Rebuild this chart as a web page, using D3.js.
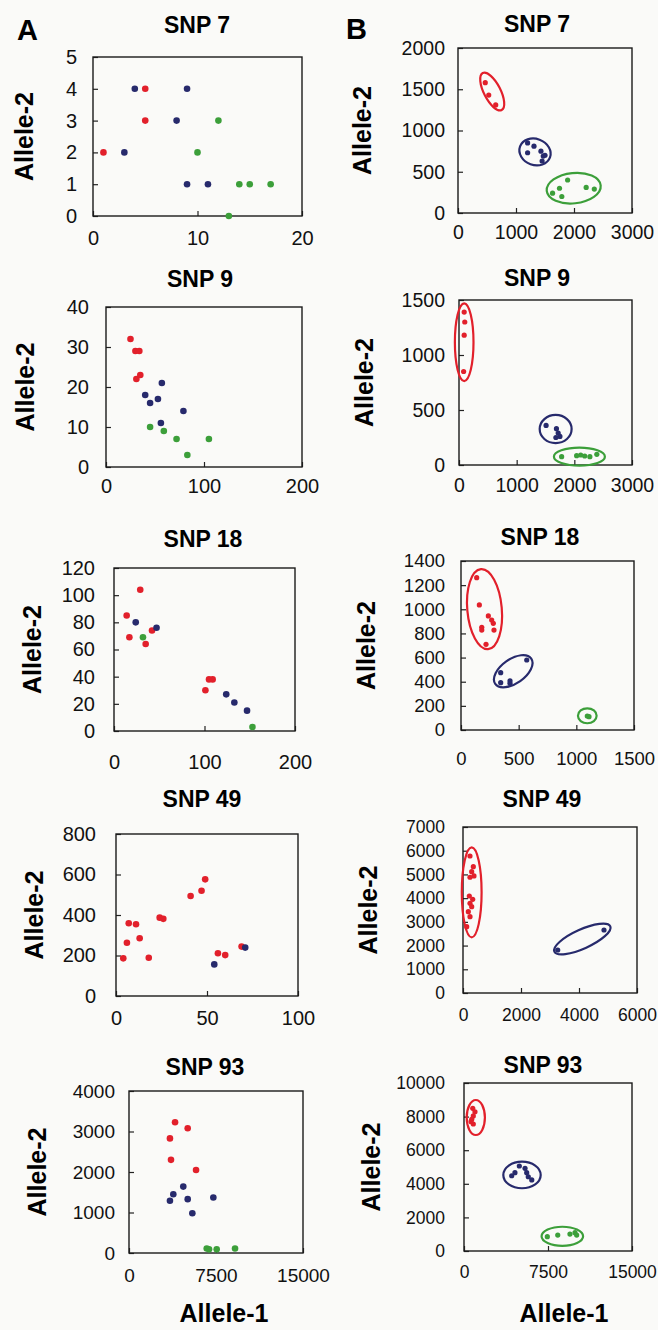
<!DOCTYPE html>
<html>
<head>
<meta charset="utf-8">
<script src="https://cdn.jsdelivr.net/npm/d3@7"></script>
<style>
  body { margin: 0; background: #fafaf8; }
  svg { display: block; font-family: "Liberation Sans", Arial, sans-serif; }
</style>
</head>
<body>
<svg id="fig" width="658" height="1330"></svg>
<script>
// ---- data ----
const snpNames = ["SNP 7", "SNP 9", "SNP 18", "SNP 49", "SNP 93"];

// column A tick values
const aXTicks = [[0, 10, 20], [0, 100, 200], [0, 100, 200], [0, 50, 100], [0, 7500, 15000]];
const aYTicks = [[0, 1, 2, 3, 4, 5], [0, 10, 20, 30, 40], [0, 20, 40, 60, 80, 100, 120],
                 [0, 200, 400, 600, 800], [0, 1000, 2000, 3000, 4000]];
// column B tick values
const bXTicks = [[0, 1000, 2000, 3000], [0, 1000, 2000, 3000], [0, 500, 1000, 1500],
                 [0, 2000, 4000, 6000], [0, 7500, 15000]];
const bYTicks = [[0, 500, 1000, 1500, 2000], [0, 500, 1000, 1500],
                 [0, 200, 400, 600, 800, 1000, 1200, 1400],
                 [0, 1000, 2000, 3000, 4000, 5000, 6000, 7000],
                 [0, 2000, 4000, 6000, 8000, 10000]];

// points: [allele-1, allele-2, genotype]  r = allele-2 homozygote, h = heterozygote, g = allele-1 homozygote
const a7 = [[1,2,"r"],[5,4,"r"],[5,3,"r"],
  [3,2,"h"],[4,4,"h"],[8,3,"h"],[9,4,"h"],[9,1,"h"],[11,1,"h"],
  [10,2,"g"],[12,3,"g"],[13,0,"g"],[14,1,"g"],[15,1,"g"],[17,1,"g"]];
const a9 = [[25,32,"r"],[30,29,"r"],[34,29,"r"],[31,22,"r"],[35,23,"r"],
  [57,21,"h"],[40,18,"h"],[45,16,"h"],[53,17,"h"],[79,14,"h"],[56,11,"h"],
  [45,10,"g"],[59,9,"g"],[72,7,"g"],[105,7,"g"],[83,3,"g"]];
const a18 = [[29,104,"r"],[14,85,"r"],[42,74,"r"],[17,69,"r"],[35,64,"r"],[101,30,"r"],[105,38,"r"],[109,38,"r"],
  [24,80,"h"],[47,76,"h"],[124,27,"h"],[133,21,"h"],[147,15,"h"],
  [32,69,"g"],[153,3,"g"]];
const a49 = [[4,186,"r"],[6,263,"r"],[7,359,"r"],[11,354,"r"],[13,285,"r"],[18,189,"r"],[24,387,"r"],
  [26,381,"r"],[41,494,"r"],[47,520,"r"],[49,576,"r"],[56,211,"r"],[60,202,"r"],[69,244,"r"],
  [54,156,"h"],[71,239,"h"]];
const a93 = [[3970,3230,"r"],[5060,3080,"r"],[3530,2830,"r"],[3620,2300,"r"],[5780,2050,"r"],
  [4680,1640,"h"],[3820,1450,"h"],[3530,1290,"h"],[5060,1330,"h"],[7270,1370,"h"],[5460,980,"h"],
  [6700,110,"g"],[6900,90,"g"],[7560,90,"g"],[9140,110,"g"]];

const b7 = [[470,1580,"r"],[530,1430,"r"],[650,1310,"r"],
  [1200,850,"h"],[1310,810,"h"],[1200,730,"h"],[1430,750,"h"],[1470,690,"h"],[1450,630,"h"],[1500,700,"h"],
  [1890,400,"g"],[1750,300,"g"],[1630,240,"g"],[1790,200,"g"],[2210,310,"g"],[2350,290,"g"]];
const b9 = [[90,1390,"r"],[100,1300,"r"],[90,1180,"r"],[80,850,"r"],
  [1510,360,"h"],[1690,330,"h"],[1720,290,"h"],[1750,260,"h"],[1680,250,"h"],
  [1780,76,"g"],[2040,85,"g"],[2110,91,"g"],[2180,82,"g"],[2270,76,"g"],[2390,97,"g"]];
const b18 = [[136,1262,"r"],[159,1036,"r"],[237,945,"r"],[266,911,"r"],[280,884,"r"],[180,851,"r"],
  [180,828,"r"],[286,828,"r"],[217,710,"r"],
  [344,475,"h"],[344,392,"h"],[425,408,"h"],[425,387,"h"],[570,580,"h"],
  [1095,116,"g"],[1110,110,"g"]];
const b49 = [[241,5778,"r"],[356,5327,"r"],[300,5116,"r"],[379,4935,"r"],[241,4880,"r"],[218,4091,"r"],
  [334,3952,"r"],[241,3783,"r"],[300,3640,"r"],[183,3429,"r"],[241,3219,"r"],[128,2797,"r"],
  [3266,1814,"h"],[4862,2657,"h"]];
const b93 = [[780,8490,"r"],[980,8290,"r"],[830,8040,"r"],[690,7840,"r"],[830,7560,"r"],[630,7700,"r"],
  [4260,4480,"h"],[4550,4660,"h"],[4940,5060,"h"],[5450,4920,"h"],[5600,4660,"h"],[5740,4420,"h"],[6050,4230,"h"],
  [7440,850,"g"],[8370,950,"g"],[9460,1010,"g"],[9910,1090,"g"],[10060,950,"g"]];

// cluster ellipses: [centre x, centre y, major-axis end x, major-axis end y, minor/major ratio, genotype]
const b7Clusters = [[590,1472,753,1248,0.4,"r"],[1328,740,1586,673,0.82,"h"],[1995,301,2460,335,0.56,"g"]];
const b9Clusters = [[90,1116,90,1469,0.24,"r"],[1676,327,1953,327,0.88,"h"],[2088,76,2530,76,0.35,"g"]];
const b18Clusters = [[204,1001,173,1332,0.43,"r"],[453,487,609,592,0.55,"h"],[1095,118,1176,118,0.8,"g"]];
const b49Clusters = [[300,4247,300,6145,0.22,"r"],[4115,2278,5080,2810,0.31,"h"]];
const b93Clusters = [[1054,7946,1054,8988,0.52,"r"],[5179,4524,6848,4524,0.71,"h"],[8780,875,10634,875,0.46,"g"]];

const aPoints = [a7, a9, a18, a49, a93];
const bPoints = [b7, b9, b18, b49, b93];
const bClusters = [b7Clusters, b9Clusters, b18Clusters, b49Clusters, b93Clusters];

// ---- styling / layout ----
const colors = { r: "#e2202b", h: "#272a6c", g: "#3c9f3a" };

// box [x0, y0, x1, y1], title [cx, baseline], y label centre x, y tick label right edge, x label centre offset, font size
const aLayout = [
  { box: [93, 57, 302, 216],   title: [197, 33],   ylab: 24, yr: 77,  xo: 22, fs: 20 },
  { box: [106, 307, 302, 467], title: [200, 287],  ylab: 25, yr: 89,  xo: 19, fs: 20 },
  { box: [114, 568, 295, 731], title: [203, 547],  ylab: 32, yr: 95,  xo: 31, fs: 20 },
  { box: [116, 834, 298, 996], title: [202, 807],  ylab: 34, yr: 96,  xo: 22, fs: 20 },
  { box: [129, 1091, 303, 1253], title: [205, 1075], ylab: 37, yr: 115, xo: 22, fs: 19 }
];
const bLayout = [
  { box: [458, 48, 632, 213],   title: [537, 32],   ylab: 362, yr: 445, xo: 19, fs: 19.5 },
  { box: [459, 300, 632, 465],  title: [537, 286],  ylab: 364, yr: 445, xo: 20, fs: 19.5 },
  { box: [461, 561, 634, 730],  title: [540, 545],  ylab: 366, yr: 445, xo: 28, fs: 18.5 },
  { box: [463, 827, 637, 993],  title: [542, 807],  ylab: 368, yr: 445, xo: 22, fs: 17.5 },
  { box: [464, 1083, 632, 1251], title: [543, 1073], ylab: 371, yr: 445, xo: 21, fs: 17.5 }
];

const svg = d3.select("#fig");

function drawPanel(lay, name, xTicks, yTicks, pts, clusters, dotR) {
  const [x0, y0, x1, y1] = lay.box;
  const x = d3.scaleLinear().domain([xTicks[0], xTicks[xTicks.length - 1]]).range([x0, x1]);
  const y = d3.scaleLinear().domain([yTicks[0], yTicks[yTicks.length - 1]]).range([y1, y0]);
  const g = svg.append("g");

  // title
  g.append("text")
    .attr("x", lay.title[0]).attr("y", lay.title[1])
    .attr("text-anchor", "middle")
    .attr("font-size", 23).attr("font-weight", "bold")
    .text(name);

  // axes with inward ticks
  const xAxis = g.append("g")
    .attr("transform", `translate(0,${y1})`)
    .call(d3.axisBottom(x).tickValues(xTicks).tickFormat(d3.format("d"))
      .tickSizeInner(-5).tickSizeOuter(0).tickPadding(lay.xo - 0.35 * lay.fs));
  const yAxis = g.append("g")
    .attr("transform", `translate(${x0},0)`)
    .call(d3.axisLeft(y).tickValues(yTicks).tickFormat(d3.format("d"))
      .tickSizeInner(-5).tickSizeOuter(0).tickPadding(x0 - lay.yr));
  [xAxis, yAxis].forEach(ax => {
    ax.select(".domain").remove();
    ax.selectAll("line").attr("stroke", "#222").attr("stroke-width", 1.2);
    ax.selectAll("text").attr("font-size", lay.fs).attr("fill", "#111")
      .attr("font-family", "'Liberation Sans', Arial, sans-serif");
  });

  // frame
  g.append("rect")
    .attr("x", x0).attr("y", y0).attr("width", x1 - x0).attr("height", y1 - y0)
    .attr("fill", "none").attr("stroke", "#1a1a1a").attr("stroke-width", 1.4);

  // y label
  g.append("text")
    .attr("transform", `translate(${lay.ylab + 9},${(y0 + y1) / 2}) rotate(-90)`)
    .attr("text-anchor", "middle")
    .attr("font-size", 25).attr("font-weight", "bold")
    .text("Allele-2");

  // cluster ellipses
  if (clusters) {
    g.selectAll(".cl").data(clusters).enter().append("ellipse")
      .attr("class", "cl")
      .each(function (d) {
        const cx = x(d[0]), cy = y(d[1]);
        const dx = x(d[2]) - cx, dy = y(d[3]) - cy;
        const rx = Math.hypot(dx, dy);
        const ang = Math.atan2(dy, dx) * 180 / Math.PI;
        d3.select(this)
          .attr("transform", `translate(${cx},${cy}) rotate(${ang})`)
          .attr("rx", rx).attr("ry", rx * d[4]);
      })
      .attr("fill", "none")
      .attr("stroke", d => colors[d[5]])
      .attr("stroke-width", 2.2);
  }

  // points
  g.selectAll(".pt").data(pts).enter().append("circle")
    .attr("class", "pt")
    .attr("cx", d => x(d[0]))
    .attr("cy", d => y(d[1]))
    .attr("r", dotR)
    .attr("fill", d => colors[d[2]]);
}

snpNames.forEach((name, i) => {
  drawPanel(aLayout[i], name, aXTicks[i], aYTicks[i], aPoints[i], null, 3.3);
  drawPanel(bLayout[i], name, bXTicks[i], bYTicks[i], bPoints[i], bClusters[i], 2.6);
});

// panel letters
svg.append("text").attr("x", 17).attr("y", 40)
  .attr("font-size", 29).attr("font-weight", "bold").text("A");
svg.append("text").attr("x", 346).attr("y", 39)
  .attr("font-size", 29).attr("font-weight", "bold").text("B");

// x axis titles
[224, 564].forEach(cx => {
  svg.append("text").attr("x", cx).attr("y", 1322)
    .attr("text-anchor", "middle")
    .attr("font-size", 25).attr("font-weight", "bold")
    .text("Allele-1");
});
</script>
</body>
</html>
